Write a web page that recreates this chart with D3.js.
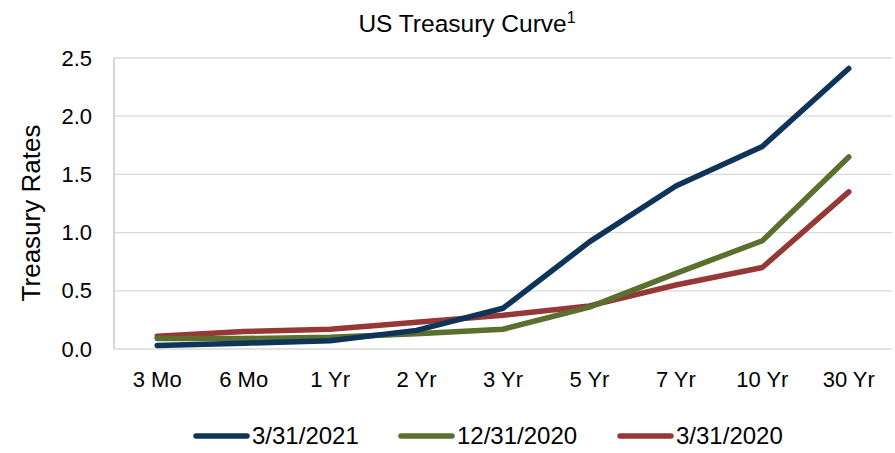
<!DOCTYPE html>
<html>
<head>
<meta charset="utf-8">
<script src="https://cdn.jsdelivr.net/npm/d3@7"></script>
<style>
  body { margin: 0; background: #fff; }
  text { font-family: "Liberation Sans", Arial, sans-serif; fill: #000; }
</style>
</head>
<body>
<div id="chart"></div>
<script>
const tenors = ["3 Mo", "6 Mo", "1 Yr", "2 Yr", "3 Yr", "5 Yr", "7 Yr", "10 Yr", "30 Yr"];
const mar2021 = [0.03, 0.05, 0.07, 0.16, 0.35, 0.92, 1.40, 1.74, 2.41];
const dec2020 = [0.09, 0.09, 0.10, 0.13, 0.17, 0.36, 0.65, 0.93, 1.65];
const mar2020 = [0.11, 0.15, 0.17, 0.23, 0.29, 0.37, 0.55, 0.70, 1.35];
const seriesNames = ["3/31/2021", "12/31/2020", "3/31/2020"];
const yTicks = [0, 0.5, 1.0, 1.5, 2.0, 2.5];

const series = [
    { name: seriesNames[0], values: mar2021, color: "#0f3459" },
    { name: seriesNames[1], values: dec2020, color: "#5b6f2f" },
    { name: seriesNames[2], values: mar2020, color: "#953836" }
];

const width = 895, height = 453;
const margin = { top: 58, right: 3, bottom: 104, left: 114 };

const svg = d3.select("#chart")
    .append("svg")
    .attr("width", width)
    .attr("height", height);

const x = d3.scaleBand()
    .domain(tenors)
    .range([margin.left, width - margin.right]);

const y = d3.scaleLinear()
    .domain([0, 2.5])
    .range([height - margin.bottom, margin.top]);

// gridlines
svg.append("g")
    .selectAll("line")
    .data(yTicks)
    .enter()
    .append("line")
    .attr("x1", margin.left)
    .attr("x2", width - margin.right)
    .attr("y1", d => y(d))
    .attr("y2", d => y(d))
    .attr("stroke", "#d9d9d9")
    .attr("stroke-width", 1.3);

// left axis line
svg.append("line")
    .attr("x1", margin.left)
    .attr("x2", margin.left)
    .attr("y1", y(2.5))
    .attr("y2", y(0))
    .attr("stroke", "#c8c8c8")
    .attr("stroke-width", 1.5);

// y axis labels
const yAxis = d3.axisLeft(y)
    .tickValues(yTicks)
    .tickFormat(d3.format(".1f"))
    .tickSize(0)
    .tickPadding(22);

svg.append("g")
    .attr("transform", `translate(${margin.left},0)`)
    .call(yAxis)
    .call(g => g.select(".domain").remove())
    .selectAll("text")
    .attr("font-size", "22px")
    .attr("font-family", "Liberation Sans, Arial, sans-serif")
    .attr("fill", "#000");

// x axis labels
const xAxis = d3.axisBottom(x).tickSize(0).tickPadding(22);
svg.append("g")
    .attr("transform", `translate(0,${y(0)})`)
    .call(xAxis)
    .call(g => g.select(".domain").remove())
    .selectAll("text")
    .attr("font-size", "22px")
    .attr("font-family", "Liberation Sans, Arial, sans-serif")
    .attr("fill", "#000");

// lines
const line = d3.line()
    .x((d, i) => x(tenors[i]) + x.bandwidth() / 2)
    .y(d => y(d));

svg.append("g")
    .selectAll("path")
    .data(series.slice().reverse())
    .enter()
    .append("path")
    .attr("d", d => line(d.values))
    .attr("fill", "none")
    .attr("stroke", d => d.color)
    .attr("stroke-width", 5.5)
    .attr("stroke-linecap", "round")
    .attr("stroke-linejoin", "round");

// title
const title = svg.append("text")
    .attr("x", 467)
    .attr("y", 32)
    .attr("text-anchor", "middle")
    .attr("font-size", "24.5px");
title.append("tspan").text("US Treasury Curve");
title.append("tspan").text("1").attr("font-size", "16px").attr("dy", -9);

// y axis title
svg.append("text")
    .attr("transform", `translate(40,213) rotate(-90)`)
    .attr("text-anchor", "middle")
    .attr("font-size", "26px")
    .text("Treasury Rates");

// legend
const legendX = [194, 399, 618];
const legend = svg.append("g")
    .selectAll("g")
    .data(series)
    .enter()
    .append("g")
    .attr("transform", (d, i) => `translate(${legendX[i]},436)`);

legend.append("line")
    .attr("x1", 2)
    .attr("x2", 53)
    .attr("y1", 0)
    .attr("y2", 0)
    .attr("stroke", d => d.color)
    .attr("stroke-width", 5.5)
    .attr("stroke-linecap", "round");

legend.append("text")
    .attr("x", 58)
    .attr("y", 8)
    .attr("font-size", "24px")
    .text(d => d.name);
</script>
</body>
</html>
